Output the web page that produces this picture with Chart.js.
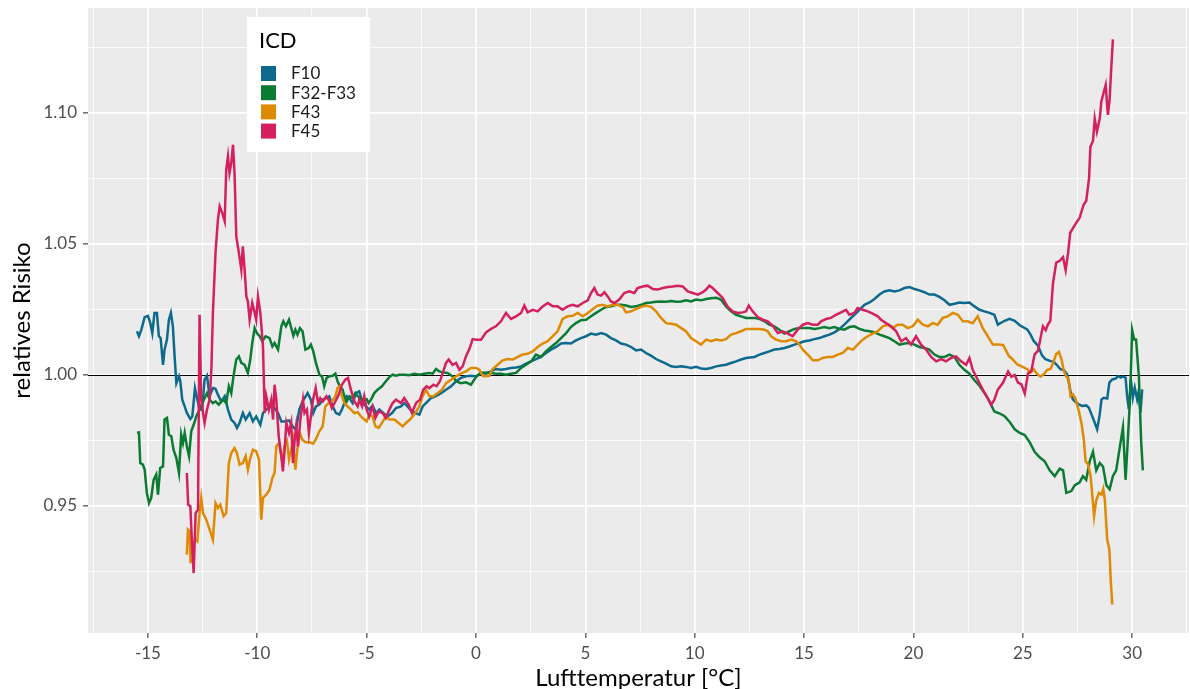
<!DOCTYPE html>
<html>
<head>
<meta charset="utf-8">
<script src="https://cdn.jsdelivr.net/npm/chart.js@4.4.1/dist/chart.umd.min.js"></script>
<style>
  body { margin: 0; background: #fff; }
  #wrap { width: 1190px; height: 689px; position: relative; }
</style>
</head>
<body>
<div id="wrap"><canvas id="myChart"></canvas></div>
<script>
// relative risk by air temperature, one pair of arrays per ICD group
const seriesNames = ['F10', 'F32-F33', 'F43', 'F45'];
const seriesColors = ['#0D6A8E', '#0B7A33', '#DF8A03', '#D4215E'];

const f10Temp = [-15.50,-15.41,-15.30,-15.15,-15.00,-14.89,-14.80,-14.70,-14.59,-14.50,-14.42,-14.31,-14.24,-14.13,-14.04,-13.95,-13.86,-13.78,-13.70,-13.58,-13.52,-13.43,-13.32,-13.22,-13.06,-12.97,-12.85,-12.74,-12.64,-12.52,-12.41,-12.30,-12.18,-12.03,-11.91,-11.80,-11.65,-11.49,-11.34,-11.19,-11.04,-10.93,-10.81,-10.66,-10.53,-10.35,-10.20,-10.05,-9.86,-9.74,-9.59,-9.44,-9.21,-9.05,-8.90,-8.75,-8.55,
  -8.38,-8.23,-8.08,-7.93,-7.70,-7.55,-7.44,-7.32,-7.16,-7.01,-6.86,-6.71,-6.55,-6.40,-6.25,-6.13,-6.02,-5.91,-5.79,-5.64,-5.49,-5.34,-5.18,-5.03,-4.88,-4.73,-4.57,-4.42,-4.24,-4.04,-3.84,-3.66,-3.43,-3.28,-3.13,-2.93,-2.77,-2.59,-2.44,-2.29,-2.06,-1.83,-1.60,-1.37,-1.14,-0.91,-0.69,-0.46,-0.23,
  0.00,0.23,0.46,0.69,0.91,1.14,1.37,1.60,1.83,2.06,2.29,2.52,2.74,2.97,3.20,3.43,3.66,3.89,4.12,4.34,4.57,4.80,5.03,5.26,5.49,5.72,5.95,6.17,6.40,6.63,6.86,7.09,7.32,7.55,7.77,8.00,8.23,8.46,8.69,8.92,9.15,9.38,9.60,9.83,10.06,10.29,10.52,10.75,10.98,11.20,11.43,11.66,11.89,12.12,12.35,
  12.73,12.96,13.19,13.41,13.64,13.87,14.10,14.33,14.56,14.79,15.02,15.24,15.47,15.70,15.93,16.16,16.39,16.62,16.84,17.07,17.30,17.53,17.76,17.99,18.22,18.45,18.67,18.90,19.13,19.36,19.59,19.82,20.05,20.27,20.50,20.73,20.96,21.19,21.42,21.65,21.88,22.10,22.33,22.56,22.79,23.02,23.25,23.48,23.70,23.86,24.17,24.40,24.63,24.86,
  25.20,25.35,25.50,25.70,25.88,26.04,26.27,26.42,26.57,26.72,26.88,27.03,27.18,27.29,27.41,27.56,27.71,27.90,28.02,28.17,28.29,28.40,28.51,28.60,28.70,28.86,28.96,29.09,29.24,29.36,29.47,29.57,29.70,29.77,29.85,29.94,30.03,30.12,30.23,30.30,30.38,30.46];
const f10Risk = [1.0167,1.0148,1.0173,1.0221,1.0226,1.0198,1.0160,1.0237,1.0237,1.0148,1.0141,1.0039,1.0097,1.0135,1.0211,1.0237,1.0186,1.0071,0.9969,0.9995,0.9976,0.9906,0.9880,0.9855,0.9832,0.9842,0.9950,0.9906,0.9868,0.9868,0.9982,0.9997,0.9919,0.9950,0.9947,0.9925,0.9899,0.9919,0.9868,0.9830,0.9817,0.9798,0.9817,0.9855,0.9830,0.9855,0.9823,0.9842,0.9810,0.9855,0.9868,0.9880,0.9874,0.9855,0.9823,0.9823,0.9827,
  0.9804,0.9791,0.9868,0.9899,0.9931,0.9906,0.9855,0.9880,0.9887,0.9906,0.9912,0.9919,0.9880,0.9855,0.9849,0.9868,0.9893,0.9919,0.9912,0.9893,0.9931,0.9938,0.9893,0.9880,0.9868,0.9883,0.9855,0.9868,0.9855,0.9842,0.9855,0.9874,0.9880,0.9893,0.9880,0.9861,0.9855,0.9849,0.9880,0.9893,0.9912,0.9919,0.9931,0.9944,0.9957,0.9976,0.9989,0.9995,0.9997,
  0.9995,1.0008,1.0005,1.0014,1.0023,1.0020,1.0023,1.0027,1.0029,1.0033,1.0043,1.0052,1.0061,1.0069,1.0084,1.0097,1.0107,1.0120,1.0122,1.0120,1.0132,1.0141,1.0148,1.0158,1.0154,1.0160,1.0154,1.0141,1.0132,1.0120,1.0116,1.0107,1.0094,1.0097,1.0084,1.0074,1.0061,1.0052,1.0043,1.0033,1.0031,1.0033,1.0031,1.0027,1.0031,1.0025,1.0023,1.0027,1.0033,1.0036,1.0039,1.0046,1.0052,1.0059,1.0065,
  1.0069,1.0078,1.0084,1.0090,1.0097,1.0099,1.0103,1.0109,1.0116,1.0122,1.0129,1.0132,1.0137,1.0141,1.0148,1.0154,1.0163,1.0176,1.0192,1.0211,1.0230,1.0249,1.0268,1.0277,1.0290,1.0307,1.0319,1.0323,1.0319,1.0323,1.0332,1.0336,1.0328,1.0323,1.0316,1.0307,1.0307,1.0298,1.0285,1.0268,1.0272,1.0277,1.0275,1.0277,1.0262,1.0249,1.0243,1.0237,1.0230,1.0192,1.0207,1.0214,1.0207,1.0190,
  1.0174,1.0155,1.0130,1.0111,1.0075,1.0060,1.0053,1.0050,1.0037,1.0022,1.0019,1.0003,0.9939,0.9907,0.9897,0.9888,0.9882,0.9884,0.9875,0.9844,0.9818,0.9793,0.9844,0.9907,0.9913,0.9910,0.9971,0.9983,0.9986,0.9996,0.9990,0.9994,0.9990,0.9920,0.9869,0.9983,0.9913,0.9952,0.9907,0.9939,0.9856,0.9945];

const f32Temp = [-15.50,-15.41,-15.35,-15.23,-15.15,-15.05,-14.95,-14.85,-14.74,-14.62,-14.54,-14.44,-14.31,-14.24,-14.13,-14.04,-13.93,-13.83,-13.70,-13.58,-13.48,-13.40,-13.32,-13.22,-13.12,-13.02,-12.91,-12.79,-12.64,-12.48,-12.30,-12.18,-12.03,-11.91,-11.76,-11.57,-11.42,-11.30,-11.19,-11.09,-10.96,-10.84,-10.73,-10.58,-10.43,-10.32,-10.23,-10.12,-10.02,-9.89,-9.77,-9.62,-9.44,-9.31,-9.21,-9.05,-8.90,-8.81,-8.69,-8.55,
  -8.35,-8.26,-8.16,-8.05,-7.93,-7.80,-7.65,-7.55,-7.44,-7.32,-7.16,-7.04,-6.94,-6.83,-6.71,-6.55,-6.43,-6.33,-6.22,-6.10,-6.02,-5.91,-5.79,-5.64,-5.52,-5.41,-5.30,-5.15,-5.00,-4.91,-4.80,-4.65,-4.50,-4.30,-4.12,-3.96,-3.81,-3.66,-3.51,-3.28,-3.05,-2.82,-2.59,-2.36,-2.13,-1.98,-1.83,-1.68,-1.52,-1.30,-1.07,-0.91,-0.69,-0.46,-0.23,-0.08,
  0.00,0.23,0.46,0.69,0.91,1.14,1.37,1.60,1.83,2.06,2.29,2.52,2.74,2.97,3.20,3.43,3.66,3.89,4.12,4.34,4.57,4.80,5.03,5.26,5.49,5.72,5.95,6.17,6.40,6.63,6.86,7.09,7.32,7.55,7.77,8.00,8.23,8.46,8.69,8.92,9.15,9.38,9.60,9.83,10.06,10.29,10.52,10.75,10.98,11.20,11.43,11.66,11.89,12.12,12.35,
  12.73,12.96,13.19,13.41,13.64,13.87,14.10,14.33,14.56,14.79,15.02,15.24,15.47,15.70,15.93,16.16,16.39,16.62,16.84,17.07,17.30,17.53,17.76,17.99,18.22,18.45,18.67,18.90,19.13,19.36,19.59,19.82,20.05,20.27,20.50,20.73,20.96,21.19,21.42,21.65,21.88,22.10,22.33,22.56,22.79,23.02,23.25,23.48,23.70,23.95,
  24.17,24.40,24.63,24.86,25.09,25.32,25.54,25.77,26.00,26.23,26.46,26.69,26.84,26.99,27.22,27.37,27.60,27.75,27.90,28.06,28.21,28.36,28.52,28.67,28.82,28.97,29.12,29.27,29.43,29.58,29.70,29.81,29.91,30.00,30.09,30.18,30.31,30.41,30.49];
const f32Risk = [0.9779,0.9781,0.9664,0.9658,0.9639,0.9550,0.9511,0.9531,0.9600,0.9620,0.9543,0.9645,0.9651,0.9830,0.9836,0.9772,0.9766,0.9715,0.9683,0.9626,0.9772,0.9740,0.9779,0.9728,0.9690,0.9785,0.9810,0.9842,0.9868,0.9899,0.9931,0.9906,0.9893,0.9899,0.9887,0.9906,0.9893,0.9957,0.9931,0.9995,1.0059,1.0071,1.0046,1.0039,1.0008,1.0059,1.0122,1.0179,1.0160,1.0148,1.0129,1.0148,1.0141,1.0109,1.0122,1.0097,1.0186,1.0205,1.0186,1.0211,
  1.0150,1.0173,1.0154,1.0179,1.0167,1.0097,1.0103,1.0116,1.0090,1.0046,1.0001,0.9995,0.9957,0.9989,0.9995,0.9997,1.0005,0.9976,0.9957,0.9944,0.9919,0.9899,0.9919,0.9912,0.9931,0.9919,0.9912,0.9906,0.9908,0.9893,0.9906,0.9931,0.9944,0.9957,0.9976,0.9992,1.0001,0.9997,1.0001,1.0001,0.9999,1.0005,1.0001,1.0005,1.0008,1.0005,1.0023,1.0014,1.0010,1.0008,0.9995,0.9976,0.9969,0.9972,0.9963,0.9982,
  0.9992,1.0008,1.0010,1.0008,1.0005,1.0005,1.0001,1.0005,1.0008,1.0027,1.0039,1.0052,1.0078,1.0069,1.0090,1.0107,1.0122,1.0141,1.0160,1.0183,1.0198,1.0209,1.0211,1.0224,1.0237,1.0249,1.0260,1.0262,1.0268,1.0268,1.0265,1.0260,1.0262,1.0268,1.0275,1.0277,1.0280,1.0281,1.0280,1.0282,1.0280,1.0281,1.0285,1.0281,1.0288,1.0285,1.0290,1.0293,1.0295,1.0288,1.0262,1.0243,1.0230,1.0224,1.0218,
  1.0218,1.0214,1.0205,1.0192,1.0186,1.0173,1.0158,1.0167,1.0176,1.0179,1.0179,1.0179,1.0176,1.0179,1.0183,1.0179,1.0183,1.0176,1.0173,1.0183,1.0186,1.0176,1.0170,1.0167,1.0163,1.0154,1.0148,1.0141,1.0129,1.0116,1.0120,1.0122,1.0116,1.0107,1.0103,1.0097,1.0078,1.0069,1.0069,1.0078,1.0069,1.0039,1.0020,1.0005,0.9980,0.9959,0.9931,0.9899,0.9861,0.9853,
  0.9843,0.9821,0.9793,0.9779,0.9771,0.9743,0.9707,0.9686,0.9671,0.9636,0.9614,0.9643,0.9636,0.9550,0.9557,0.9579,0.9590,0.9614,0.9600,0.9671,0.9707,0.9636,0.9664,0.9650,0.9579,0.9564,0.9614,0.9636,0.9721,0.9800,0.9600,0.9764,0.9921,1.0171,1.0136,1.0136,0.9993,0.9750,0.9636];

const f43Temp = [-13.22,-13.17,-13.09,-13.05,-12.94,-12.84,-12.74,-12.64,-12.56,-12.48,-12.33,-12.18,-12.03,-11.91,-11.80,-11.69,-11.54,-11.42,-11.30,-11.19,-11.04,-10.93,-10.81,-10.66,-10.53,-10.43,-10.32,-10.20,-10.05,-9.92,-9.82,-9.74,-9.59,-9.44,-9.31,-9.21,-9.13,-9.01,-8.86,-8.75,-8.64,-8.55,-8.45,-8.37,-8.26,-8.17,-8.06,-7.94,-7.79,-7.61,-7.45,-7.33,-7.16,-7.01,
  -6.89,-6.74,-6.59,-6.43,-6.33,-6.22,-6.13,-6.02,-5.87,-5.72,-5.56,-5.41,-5.26,-5.11,-5.00,-4.88,-4.73,-4.60,-4.45,-4.30,-4.12,-3.96,-3.73,-3.54,-3.35,-3.20,-3.02,-2.82,-2.59,-2.44,-2.29,-2.13,-1.95,-1.75,-1.55,-1.37,-1.14,-0.91,-0.69,-0.46,-0.23,
  0.00,0.15,0.30,0.46,0.61,0.76,0.99,1.22,1.45,1.68,1.91,2.13,2.36,2.59,2.82,3.05,3.28,3.51,3.73,3.96,4.19,4.42,4.65,4.88,5.11,5.34,5.56,5.79,6.02,6.25,6.48,6.71,6.86,7.09,7.32,7.55,7.77,8.00,8.23,8.46,8.69,8.92,9.15,9.38,9.60,9.83,10.06,10.29,10.52,10.75,10.98,11.20,11.43,11.66,11.89,12.12,12.35,
  12.73,12.96,13.19,13.34,13.49,13.72,13.95,14.18,14.41,14.63,14.79,14.94,15.17,15.40,15.63,15.85,16.08,16.31,16.54,16.77,17.00,17.23,17.45,17.68,17.91,18.14,18.37,18.60,18.83,19.05,19.28,19.51,19.74,19.97,20.20,20.43,20.66,20.88,21.11,21.34,21.57,21.80,22.03,22.26,22.48,22.71,22.94,23.17,23.40,23.63,23.86,24.10,
  24.36,24.51,24.74,24.97,25.20,25.35,25.50,25.66,25.81,25.96,26.11,26.27,26.42,26.52,26.65,26.77,26.88,26.98,27.10,27.18,27.29,27.41,27.56,27.68,27.79,27.87,27.99,28.10,28.17,28.26,28.35,28.48,28.60,28.68,28.75,28.86,28.96,29.02,29.09];
const f43Risk = [0.9314,0.9410,0.9403,0.9282,0.9346,0.9371,0.9365,0.9473,0.9531,0.9473,0.9448,0.9410,0.9371,0.9511,0.9492,0.9505,0.9461,0.9473,0.9664,0.9702,0.9721,0.9702,0.9658,0.9664,0.9690,0.9639,0.9683,0.9715,0.9709,0.9677,0.9448,0.9531,0.9543,0.9562,0.9607,0.9626,0.9728,0.9740,0.9670,0.9728,0.9747,0.9677,0.9715,0.9753,0.9639,0.9715,0.9779,0.9753,0.9743,0.9743,0.9738,0.9753,0.9785,0.9804,
  0.9880,0.9893,0.9899,0.9919,0.9950,0.9957,0.9919,0.9893,0.9880,0.9868,0.9855,0.9858,0.9842,0.9830,0.9823,0.9849,0.9842,0.9804,0.9798,0.9817,0.9842,0.9830,0.9830,0.9817,0.9804,0.9817,0.9830,0.9849,0.9880,0.9919,0.9944,0.9919,0.9919,0.9931,0.9944,0.9969,0.9982,0.9995,1.0005,1.0014,1.0027,
  1.0027,1.0020,0.9997,0.9995,0.9997,1.0023,1.0039,1.0056,1.0061,1.0059,1.0069,1.0078,1.0081,1.0090,1.0107,1.0120,1.0129,1.0148,1.0167,1.0214,1.0224,1.0226,1.0237,1.0224,1.0237,1.0252,1.0265,1.0268,1.0262,1.0268,1.0268,1.0260,1.0239,1.0243,1.0252,1.0260,1.0265,1.0260,1.0243,1.0218,1.0198,1.0196,1.0192,1.0179,1.0167,1.0141,1.0129,1.0116,1.0135,1.0129,1.0135,1.0132,1.0137,1.0154,1.0160,1.0167,1.0176,
  1.0176,1.0176,1.0173,1.0167,1.0148,1.0135,1.0129,1.0129,1.0135,1.0129,1.0116,1.0097,1.0078,1.0056,1.0056,1.0065,1.0069,1.0069,1.0078,1.0084,1.0103,1.0097,1.0116,1.0135,1.0148,1.0158,1.0167,1.0186,1.0192,1.0179,1.0192,1.0192,1.0179,1.0186,1.0211,1.0192,1.0186,1.0198,1.0192,1.0218,1.0224,1.0237,1.0230,1.0205,1.0205,1.0198,1.0224,1.0179,1.0148,1.0116,1.0116,1.0115,
  1.0073,1.0062,1.0041,1.0032,1.0022,1.0009,1.0022,1.0003,0.9994,1.0003,1.0019,1.0024,1.0053,1.0079,1.0088,1.0060,1.0015,0.9996,0.9983,0.9920,0.9926,0.9910,0.9863,0.9818,0.9755,0.9671,0.9659,0.9614,0.9550,0.9461,0.9519,0.9550,0.9544,0.9566,0.9525,0.9372,0.9334,0.9220,0.9124];

const f45Temp = [-13.22,-13.16,-13.06,-13.00,-12.91,-12.82,-12.71,-12.64,-12.56,-12.48,-12.41,-12.30,-12.18,-12.10,-12.03,-11.91,-11.80,-11.72,-11.60,-11.49,-11.42,-11.34,-11.27,-11.19,-11.11,-11.04,-10.96,-10.84,-10.73,-10.66,-10.58,-10.50,-10.43,-10.35,-10.23,-10.12,-10.05,-9.97,-9.86,-9.74,-9.66,-9.59,-9.47,-9.36,-9.28,-9.21,-9.13,-9.02,-8.90,-8.83,-8.75,-8.67,-8.55,-8.45,-8.37,-8.29,-8.22,-8.14,-8.03,-7.91,-7.84,-7.73,-7.64,-7.53,-7.45,-7.33,-7.22,-7.12,-7.00,-6.84,-6.69,
  -6.59,-6.43,-6.28,-6.13,-5.98,-5.85,-5.72,-5.56,-5.41,-5.34,-5.21,-5.11,-5.00,-4.88,-4.73,-4.60,-4.45,-4.27,-4.12,-3.96,-3.81,-3.66,-3.43,-3.28,-3.08,-2.93,-2.74,-2.56,-2.41,-2.26,-2.13,-1.95,-1.80,-1.65,-1.52,-1.37,-1.25,-1.07,-0.91,-0.76,-0.61,-0.46,-0.30,-0.15,
  0.00,0.23,0.46,0.69,0.91,1.14,1.37,1.60,1.83,2.06,2.21,2.36,2.59,2.82,3.05,3.28,3.51,3.73,3.96,4.19,4.42,4.65,4.88,5.11,5.26,5.41,5.56,5.72,5.87,6.02,6.17,6.33,6.55,6.78,7.01,7.24,7.39,7.62,7.85,8.08,8.31,8.54,8.77,8.99,9.22,9.45,9.68,9.91,10.14,10.37,10.52,10.67,10.82,11.05,11.28,11.51,11.74,11.97,12.20,12.35,12.47,
  12.65,12.88,13.11,13.34,13.57,13.80,14.02,14.25,14.48,14.71,14.94,15.17,15.40,15.63,15.78,16.01,16.23,16.46,16.69,16.92,17.07,17.30,17.45,17.68,17.91,18.14,18.37,18.52,18.75,18.98,19.21,19.44,19.66,19.89,20.12,20.35,20.58,20.81,21.04,21.27,21.49,21.72,21.95,22.18,22.41,22.56,22.71,22.94,23.17,23.40,23.55,23.70,23.86,
  24.10,24.33,24.48,24.63,24.78,24.94,25.09,25.24,25.39,25.54,25.70,25.85,25.92,26.05,26.15,26.26,26.38,26.53,26.69,26.84,26.96,27.07,27.17,27.37,27.60,27.78,27.90,28.03,28.09,28.21,28.29,28.39,28.52,28.59,28.70,28.79,28.89,28.97,29.04,29.12];
const f45Risk = [0.9626,0.9505,0.9499,0.9384,0.9244,0.9473,0.9486,1.0230,0.9906,0.9855,0.9817,0.9868,0.9906,1.0020,1.0237,1.0466,1.0593,1.0644,1.0618,1.0587,1.0784,1.0835,1.0771,1.0809,1.0879,1.0771,1.0529,1.0466,1.0402,1.0491,1.0402,1.0300,1.0281,1.0211,1.0275,1.0237,1.0211,1.0300,1.0237,1.0109,0.9855,0.9919,0.9868,0.9906,0.9830,0.9963,0.9906,0.9766,0.9690,0.9632,0.9715,0.9817,0.9779,0.9817,0.9664,0.9753,0.9804,0.9728,0.9830,0.9906,0.9855,0.9868,0.9779,0.9855,0.9906,0.9950,0.9893,0.9912,0.9899,0.9919,0.9899,
  0.9874,0.9899,0.9925,0.9963,0.9982,0.9989,0.9944,0.9899,0.9880,0.9906,0.9880,0.9919,0.9868,0.9842,0.9880,0.9836,0.9861,0.9855,0.9836,0.9868,0.9893,0.9906,0.9893,0.9912,0.9887,0.9855,0.9893,0.9906,0.9944,0.9957,0.9950,0.9963,0.9957,0.9976,1.0008,1.0046,1.0059,1.0039,1.0046,1.0020,1.0033,1.0071,1.0100,1.0137,
  1.0135,1.0135,1.0163,1.0176,1.0186,1.0205,1.0237,1.0214,1.0224,1.0237,1.0265,1.0239,1.0249,1.0243,1.0262,1.0275,1.0262,1.0262,1.0249,1.0262,1.0268,1.0262,1.0275,1.0285,1.0313,1.0332,1.0307,1.0303,1.0316,1.0300,1.0281,1.0275,1.0288,1.0313,1.0319,1.0313,1.0332,1.0338,1.0341,1.0328,1.0326,1.0332,1.0336,1.0338,1.0341,1.0338,1.0319,1.0313,1.0307,1.0316,1.0326,1.0341,1.0332,1.0313,1.0294,1.0260,1.0243,1.0237,1.0239,1.0243,1.0265,
  1.0243,1.0221,1.0211,1.0205,1.0188,1.0160,1.0167,1.0158,1.0148,1.0173,1.0192,1.0198,1.0192,1.0192,1.0205,1.0214,1.0218,1.0230,1.0239,1.0249,1.0230,1.0237,1.0256,1.0249,1.0243,1.0234,1.0224,1.0211,1.0198,1.0186,1.0167,1.0129,1.0141,1.0116,1.0148,1.0116,1.0097,1.0069,1.0052,1.0061,1.0052,1.0065,1.0071,1.0052,1.0039,1.0065,1.0020,0.9982,0.9944,0.9912,0.9886,0.9906,0.9944,
  0.9971,1.0014,0.9993,1.0000,0.9971,0.9964,0.9929,1.0007,1.0014,1.0079,1.0093,1.0157,1.0186,1.0171,1.0193,1.0207,1.0350,1.0429,1.0436,1.0450,1.0400,1.0464,1.0543,1.0571,1.0600,1.0650,1.0664,1.0750,1.0871,1.0893,1.0979,1.0929,1.0979,1.1043,1.1079,1.1107,1.0993,1.1050,1.1164,1.1281];

const xTickStep = 2.5;   // major every 5, minor between
const yTickStep = 0.025; // major every 0.05

const temps = [f10Temp, f32Temp, f43Temp, f45Temp];
const risks = [f10Risk, f32Risk, f43Risk, f45Risk];

function isMajor(v, step) {
  const r = v / step;
  return Math.abs(r - Math.round(r)) < 1e-6;
}

const datasets = seriesNames.map((name, k) => ({
  label: name,
  data: temps[k].map((t, i) => ({ x: t, y: risks[k][i] })),
  borderColor: seriesColors[k],
  backgroundColor: seriesColors[k],
  borderWidth: 2.5,
  pointRadius: 0,
  tension: 0,
  order: 4 - k
}));

const panelPlugin = {
  id: 'panel',
  beforeDraw(chart) {
    const { ctx, chartArea: a } = chart;
    ctx.save();
    ctx.fillStyle = '#EBEBEB';
    ctx.fillRect(a.left, a.top, a.right - a.left, a.bottom - a.top);
    ctx.restore();
  },
  beforeDatasetsDraw(chart) {
    const { ctx, chartArea: a } = chart;
    const y = Math.round(chart.scales.y.getPixelForValue(1)) + 0.5;
    ctx.save();
    ctx.strokeStyle = '#000000';
    ctx.lineWidth = 1;
    ctx.beginPath();
    ctx.moveTo(a.left, y);
    ctx.lineTo(a.right, y);
    ctx.stroke();
    ctx.restore();
  },
  afterDraw(chart) {
    // legend box, top left inside the panel
    const ctx = chart.ctx;
    ctx.save();
    ctx.fillStyle = '#FFFFFF';
    ctx.fillRect(247, 17, 123, 135);
    ctx.fillStyle = '#000000';
    ctx.font = '22px Lato';
    ctx.textBaseline = 'alphabetic';
    ctx.fillText('ICD', 259, 48);
    ctx.font = '17px Lato';
    ctx.textBaseline = 'middle';
    seriesNames.forEach((name, k) => {
      const y = 66 + k * 19.2;
      ctx.fillStyle = seriesColors[k];
      ctx.fillRect(261, y, 15, 15);
      ctx.fillStyle = '#1A1A1A';
      ctx.fillText(name, 291, y + 8);
    });
    ctx.restore();
  }
};

const gridOpts = (step) => ({
  color: '#FFFFFF',
  lineWidth: (c) => (c.tick && isMajor(c.tick.value, step * 2) ? 1.7 : 0.8),
  tickColor: (c) => (c.tick && isMajor(c.tick.value, step * 2) ? '#333333' : 'rgba(0,0,0,0)'),
  tickLength: 5,
  tickWidth: 1.1
});

new Chart(document.getElementById('myChart'), {
  type: 'line',
  data: { datasets },
  plugins: [panelPlugin],
  options: {
    responsive: true,
    maintainAspectRatio: false,
    animation: false,
    layout: { padding: { left: 0, right: 1, top: 8, bottom: 0 } },
    plugins: { legend: { display: false }, tooltip: { enabled: false } },
    scales: {
      x: {
        type: 'linear',
        min: -17.74,
        max: 32.6,
        border: { display: false },
        grid: gridOpts(xTickStep),
        ticks: {
          stepSize: xTickStep,
          includeBounds: false,
          autoSkip: false,
          maxRotation: 0,
          padding: 5,
          color: '#4D4D4D',
          font: { family: 'Lato', size: 17 },
          callback: (v) => (isMajor(v, xTickStep * 2) ? String(Math.round(v)) : '')
        },
        title: {
          display: true,
          text: 'Lufttemperatur [°C]',
          color: '#000000',
          font: { family: 'Lato', size: 24, lineHeight: 1 },
          padding: { top: 0, bottom: -1 }
        },
        afterFit: (s) => { s.height = 56; s.paddingLeft = 0; s.paddingRight = 0; }
      },
      y: {
        type: 'linear',
        min: 0.90153,
        max: 1.14008,
        border: { display: false },
        grid: gridOpts(yTickStep),
        ticks: {
          stepSize: yTickStep,
          includeBounds: false,
          autoSkip: false,
          padding: 6,
          color: '#4D4D4D',
          font: { family: 'Lato', size: 17 },
          callback: (v) => (isMajor(v, yTickStep * 2) ? v.toFixed(2) : '')
        },
        title: {
          display: true,
          text: 'relatives Risiko',
          color: '#000000',
          font: { family: 'Lato', size: 24, lineHeight: 1 },
          padding: { top: 10, bottom: 0 }
        },
        afterFit: (s) => { s.width = 88; s.paddingTop = 0; s.paddingBottom = 0; }
      }
    }
  }
});
</script>
</body>
</html>
